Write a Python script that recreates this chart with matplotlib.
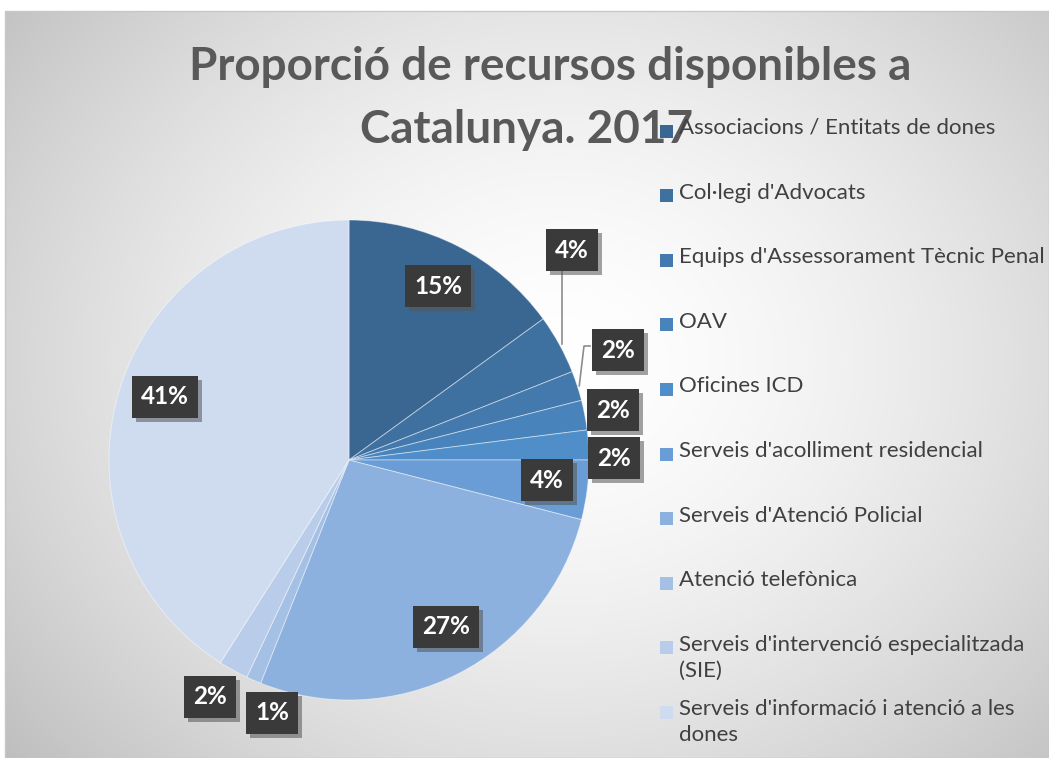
import textwrap
import numpy as np
import matplotlib
matplotlib.use("Agg")
import matplotlib.pyplot as plt
from matplotlib.patches import Rectangle
from matplotlib import patheffects as pe

# ---- data ----
categories = [
    "Associacions / Entitats de dones",
    "Col·legi d'Advocats",
    "Equips d'Assessorament Tècnic Penal",
    "OAV",
    "Oficines ICD",
    "Serveis d'acolliment residencial",
    "Serveis d'Atenció Policial",
    "Atenció telefònica",
    "Serveis d'intervenció especialitzada (SIE)",
    "Serveis d'informació i atenció a les dones",
]
values = [15, 4, 2, 2, 2, 4, 27, 1, 2, 41]
title_lines = ["Proporció de recursos disponibles a", "Catalunya. 2017"]

# ---- style ----
colors = ["#3a6792", "#3e70a0", "#4379ad", "#4883bb", "#4f8ec8",
          "#6a9cd5", "#8cb1de", "#a4c0e4", "#b9cdea", "#cfdcf0"]
W, H = 1049, 758
FONT = "Lato"

fig = plt.figure(figsize=(W / 100, H / 100), dpi=100)
fig.patch.set_facecolor("white")

# background (radial gradient) in pixel coordinates
bg = fig.add_axes([0, 0, 1, 1])
bg.set_xlim(0, W)
bg.set_ylim(H, 0)
bg.axis("off")
yy, xx = np.mgrid[11:H, 5:W]
d = np.hypot((xx - 560) / 667.0, (yy - 360) / 560.0)
g = 1.0 - 0.22 * np.clip(d, 0, 1.3) ** 1.6
img = np.dstack([g, g, g])
bg.imshow(img, extent=(5, W, H, 11), aspect="auto", interpolation="bilinear")
bg.add_patch(Rectangle((5, 11), W - 5, H - 11, fill=False, ec="#c8c8c8", lw=1))

# pie axes, data units == pixels (y upward)
ax = fig.add_axes([0, 0, 1, 1])
ax.axis("off")
cx, cy, R = 349, H - 460, 240
wedges, _ = ax.pie(values, colors=colors, startangle=90, counterclock=False,
                   center=(cx, cy), radius=R,
                   wedgeprops=dict(edgecolor=(1, 1, 1, 0.45), linewidth=0.7))
ax.set_xlim(0, W)
ax.set_ylim(0, H)
ax.set_aspect("auto")

# label placement (pixel coords, top-down) -- layout only
label_pos = [(438, 286), (572, 250), (618, 350), (613, 410), (614, 458),
             (547, 480), (446, 627), (272, 713), (210, 697), (165, 397)]
shadow = [pe.withSimplePatchShadow(offset=(3, -3), shadow_rgbFace="#555555", alpha=0.55)]
total = float(sum(values))
for v, (lx, ly) in zip(values, label_pos):
    t = ax.text(lx, H - ly, f"{v / total * 100:.0f}%", ha="center", va="center",
                color="white", fontsize=17.5, fontweight="bold", family=FONT,
                bbox=dict(boxstyle="square,pad=0.38", fc="#3a3a3a", ec="none"), zorder=5)
    t.get_bbox_patch().set_path_effects(shadow)

# leader lines
cum = np.cumsum([0] + values)
def edge_point(i):
    a = np.deg2rad(90 - (cum[i] + values[i] / 2) / total * 360)
    return cx + R * np.cos(a), cy + R * np.sin(a)
ex, ey = edge_point(1)
ax.plot([ex + 3, ex + 3], [H - 270, ey], color="#8c8c8c", lw=1.2, zorder=4)
ex, ey = edge_point(2)
ax.plot([590, 584, ex + 2], [H - 346, H - 346, ey], color="#8c8c8c", lw=1.2, zorder=4)

# title
bg.text(550, 67, title_lines[0], ha="center", va="center", fontsize=33,
        fontweight="bold", color="#595959", family=FONT)
bg.text(527, 130, title_lines[1], ha="center", va="center", fontsize=33,
        fontweight="bold", color="#595959", family=FONT)

# legend (manual, Excel-like)
for i, (lab, c) in enumerate(zip(categories, colors)):
    y0 = 131 + i * 64.6
    bg.add_patch(Rectangle((660, y0 - 6.5), 13, 13, fc=c, ec="none", zorder=6))
    bg.text(679, y0 - 13, textwrap.fill(lab, 36), ha="left", va="top",
            fontsize=16, color="#404040", family=FONT, linespacing=1.38, zorder=6)

fig.savefig("out.png", dpi=100)
